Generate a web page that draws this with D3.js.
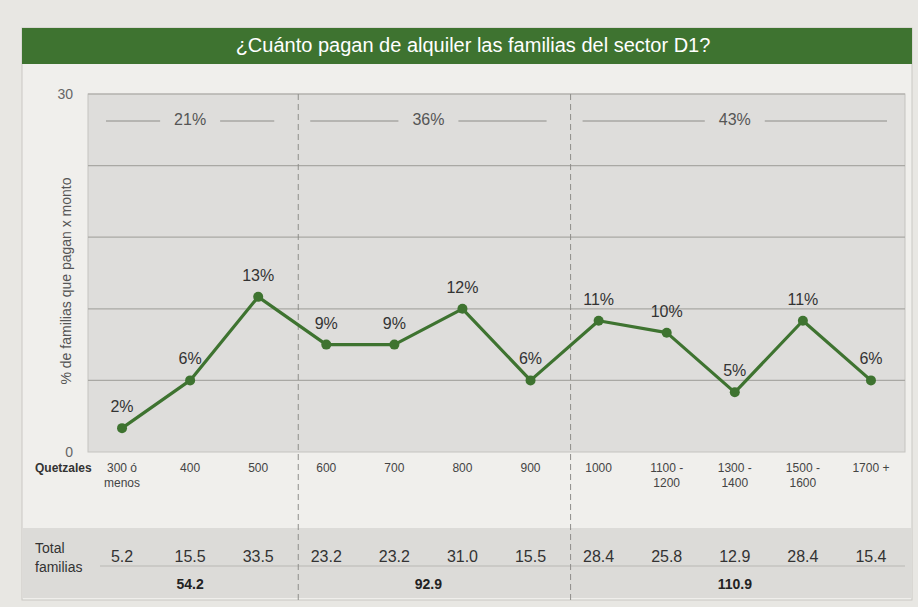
<!DOCTYPE html>
<html>
<head>
<meta charset="utf-8">
<script src="https://cdn.jsdelivr.net/npm/d3@7"></script>
<style>
  body { margin: 0; background: #e8e7e3; }
  svg { display: block; font-family: "Liberation Sans", Arial, sans-serif; }
</style>
</head>
<body>
<div id="chart"></div>
<script>
// data
const categories = ["300 ó|menos", "400", "500", "600", "700", "800", "900", "1000", "1100 -|1200", "1300 -|1400", "1500 -|1600", "1700 +"];
const percents = [2, 6, 13, 9, 9, 12, 6, 11, 10, 5, 11, 6];
const totals = ["5.2", "15.5", "33.5", "23.2", "23.2", "31.0", "15.5", "28.4", "25.8", "12.9", "28.4", "15.4"];
const groupShares = ["21%", "36%", "43%"];
const groupTotals = ["54.2", "92.9", "110.9"];
const groupStart = [0, 3, 7];
const groupEnd = [2, 6, 11];
const yTicks = [0, 30];
const gridValues = [6, 12, 18, 24, 30];

const width = 918, height = 607;
const green = "#3e7330";
const plot = { left: 88, right: 905, top: 94, bottom: 452 };

const svg = d3.select("#chart").append("svg")
  .attr("width", width)
  .attr("height", height);

// page panel
svg.append("rect")
  .attr("x", 22).attr("y", 28).attr("width", 890).attr("height", 572)
  .attr("fill", "#f0efec").attr("stroke", "#c9c8c4");

// title bar
svg.append("rect")
  .attr("x", 22).attr("y", 28).attr("width", 890).attr("height", 36)
  .attr("fill", green);
svg.append("text")
  .attr("x", 473).attr("y", 47)
  .attr("text-anchor", "middle").attr("dominant-baseline", "middle")
  .attr("fill", "#fff").style("font-size", "20px")
  .text("¿Cuánto pagan de alquiler las familias del sector D1?");

const x = d3.scaleBand()
  .domain(d3.range(categories.length))
  .range([plot.left, plot.right]);

const y = d3.scaleLinear()
  .domain([0, 30])
  .range([plot.bottom, plot.top]);

const cx = i => x(i) + x.bandwidth() / 2;

// plot background
svg.append("rect")
  .attr("x", plot.left).attr("y", plot.top)
  .attr("width", plot.right - plot.left).attr("height", plot.bottom - plot.top)
  .attr("fill", "#dedddb").attr("stroke", "#c4c3bf");

// grid
svg.append("g").selectAll("line")
  .data(gridValues)
  .join("line")
  .attr("x1", plot.left).attr("x2", plot.right)
  .attr("y1", d => y(d)).attr("y2", d => y(d))
  .attr("stroke", "#a9a8a4").attr("stroke-width", 1.2);

// table band
svg.append("rect")
  .attr("x", 23).attr("y", 528).attr("width", 888).attr("height", 70)
  .attr("fill", "#dcdbd8");
svg.append("line")
  .attr("x1", 100).attr("x2", 905).attr("y1", 566).attr("y2", 566)
  .attr("stroke", "#b9b8b4");

// y axis
const yAxis = svg.append("g")
  .attr("transform", `translate(${plot.left - 12},0)`)
  .call(d3.axisLeft(y).tickValues(yTicks).tickSize(0));
yAxis.select(".domain").remove();
yAxis.selectAll("text")
  .style("font-size", "14px").attr("fill", "#666").attr("font-family", null);

svg.append("text")
  .attr("transform", `translate(71,${(plot.top + plot.bottom) / 2 + 8}) rotate(-90)`)
  .attr("text-anchor", "middle")
  .attr("fill", "#555").style("font-size", "14px")
  .text("% de familias que pagan x monto");

// group dividers
const dividers = groupStart.slice(1).map(i => x(i) + 6);
svg.append("g").selectAll("line")
  .data(dividers)
  .join("line")
  .attr("x1", d => d).attr("x2", d => d)
  .attr("y1", plot.top).attr("y2", 600)
  .attr("stroke", "#8f8e8a").attr("stroke-dasharray", "6,4");

// group shares at the top
const groups = groupShares.map((s, k) => {
  const a = k === 0 ? plot.left : x(groupStart[k]);
  const b = k === groupShares.length - 1 ? plot.right : x(groupEnd[k]) + x.bandwidth();
  return { share: s, total: groupTotals[k], a: a, b: b,
           mid: (cx(groupStart[k]) + cx(groupEnd[k])) / 2 };
});
const gTop = svg.append("g").selectAll("g").data(groups).join("g");
gTop.append("line")
  .attr("x1", d => d.a + 18).attr("x2", d => d.mid - 30)
  .attr("y1", 121).attr("y2", 121)
  .attr("stroke", "#8d8c88");
gTop.append("line")
  .attr("x1", d => d.mid + 30).attr("x2", d => d.b - 18)
  .attr("y1", 121).attr("y2", 121)
  .attr("stroke", "#8d8c88");
gTop.append("text")
  .attr("x", d => d.mid).attr("y", 121)
  .attr("text-anchor", "middle").attr("dominant-baseline", "middle")
  .attr("fill", "#555").style("font-size", "16px")
  .text(d => d.share);

// line
const line = d3.line()
  .x((d, i) => cx(i))
  .y(d => y(d));
svg.append("path")
  .datum(percents)
  .attr("d", line)
  .attr("fill", "none")
  .attr("stroke", green).attr("stroke-width", 3.2)
  .attr("stroke-linejoin", "round");

svg.append("g").selectAll("circle")
  .data(percents)
  .join("circle")
  .attr("cx", (d, i) => cx(i)).attr("cy", d => y(d))
  .attr("r", 5).attr("fill", green);

svg.append("g").selectAll("text")
  .data(percents)
  .join("text")
  .attr("x", (d, i) => cx(i)).attr("y", d => y(d) - 16)
  .attr("text-anchor", "middle")
  .attr("fill", "#333").style("font-size", "16px")
  .text(d => d + "%");

// category labels
svg.append("text")
  .attr("x", 35).attr("y", 472)
  .attr("fill", "#333").style("font-size", "12px").style("font-weight", "bold")
  .text("Quetzales");

const cat = svg.append("g").selectAll("text")
  .data(categories)
  .join("text")
  .attr("x", (d, i) => cx(i)).attr("y", 472)
  .attr("text-anchor", "middle")
  .attr("fill", "#444").style("font-size", "12px");
cat.selectAll("tspan")
  .data(d => d.split("|"))
  .join("tspan")
  .attr("x", function () { return this.parentNode.getAttribute("x"); })
  .attr("dy", (d, j) => j === 0 ? 0 : 15)
  .text(d => d);

// totals table
svg.append("text")
  .attr("x", 35).attr("y", 553)
  .attr("fill", "#333").style("font-size", "14px")
  .text("Total");
svg.append("text")
  .attr("x", 35).attr("y", 572)
  .attr("fill", "#333").style("font-size", "14px")
  .text("familias");

svg.append("g").selectAll("text")
  .data(totals)
  .join("text")
  .attr("x", (d, i) => cx(i)).attr("y", 562)
  .attr("text-anchor", "middle")
  .attr("fill", "#333").style("font-size", "16px")
  .text(d => d);

svg.append("g").selectAll("text")
  .data(groups)
  .join("text")
  .attr("x", d => d.mid).attr("y", 589)
  .attr("text-anchor", "middle")
  .attr("fill", "#222").style("font-size", "14px").style("font-weight", "bold")
  .text(d => d.total);
</script>
</body>
</html>
